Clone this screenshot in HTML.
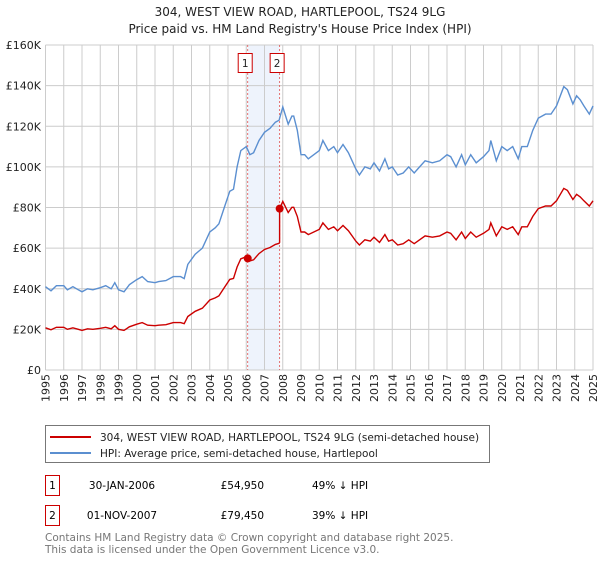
<!DOCTYPE html>
<html><head><meta charset="utf-8">
<style>
body{margin:0;background:#fff;font-family:"Liberation Sans","DejaVu Sans",sans-serif;}
svg text{font-family:"DejaVu Sans","Liberation Sans",sans-serif;}
</style></head>
<body>
<svg id="chart" width="600" height="560" viewBox="0 0 600 560">
<text x="300" y="16" text-anchor="middle" font-size="12" fill="#222">304, WEST VIEW ROAD, HARTLEPOOL, TS24 9LG</text>
<text x="300" y="33" text-anchor="middle" font-size="12" fill="#222">Price paid vs. HM Land Registry's House Price Index (HPI)</text>
<g id="plot"></g>
<g>
<rect x="45.5" y="425.5" width="444" height="37" fill="#fff" stroke="#777"/>
<line x1="50" y1="437" x2="91" y2="437" stroke="#cc0000" stroke-width="2"/>
<text x="100" y="441" font-size="10.5" fill="#222">304, WEST VIEW ROAD, HARTLEPOOL, TS24 9LG (semi-detached house)</text>
<line x1="50" y1="453" x2="91" y2="453" stroke="#5b8fd0" stroke-width="2"/>
<text x="100" y="457" font-size="10.5" fill="#222">HPI: Average price, semi-detached house, Hartlepool</text>
</g>
<g>
<rect x="45.5" y="475.5" width="14" height="20" fill="#fff" stroke="#cc0000"/>
<text x="52.5" y="489" text-anchor="middle" font-size="10.5">1</text>
<text x="122" y="489" text-anchor="middle" font-size="10.5">30-JAN-2006</text>
<text x="264" y="489" text-anchor="end" font-size="10.5">£54,950</text>
<text x="312" y="489" font-size="10.5">49% ↓ HPI</text>
<rect x="45.5" y="505.5" width="14" height="20" fill="#fff" stroke="#cc0000"/>
<text x="52.5" y="519" text-anchor="middle" font-size="10.5">2</text>
<text x="122" y="519" text-anchor="middle" font-size="10.5">01-NOV-2007</text>
<text x="264" y="519" text-anchor="end" font-size="10.5">£79,450</text>
<text x="312" y="519" font-size="10.5">39% ↓ HPI</text>
</g>
<text x="45" y="541" font-size="10.5" fill="#777">Contains HM Land Registry data © Crown copyright and database right 2025.</text>
<text x="45" y="553" font-size="10.5" fill="#777">This data is licensed under the Open Government Licence v3.0.</text>
</svg>
<script>
const hpiYears=[1995.0,1995.3,1995.6,1996.0,1996.2,1996.5,1996.8,1997.0,1997.3,1997.6,1998.0,1998.3,1998.6,1998.8,1999.0,1999.3,1999.6,2000.0,2000.3,2000.6,2001.0,2001.2,2001.6,2002.0,2002.4,2002.6,2002.8,2003.2,2003.6,2004.0,2004.3,2004.5,2004.8,2005.1,2005.3,2005.5,2005.7,2006.0,2006.2,2006.4,2006.7,2007.0,2007.3,2007.6,2007.8,2008.0,2008.3,2008.5,2008.6,2008.8,2009.0,2009.2,2009.4,2009.7,2010.0,2010.2,2010.5,2010.8,2011.0,2011.3,2011.6,2011.8,2012.0,2012.2,2012.5,2012.8,2013.0,2013.3,2013.6,2013.8,2014.0,2014.3,2014.6,2014.9,2015.2,2015.5,2015.8,2016.2,2016.6,2017.0,2017.2,2017.5,2017.8,2018.0,2018.3,2018.6,2019.0,2019.3,2019.4,2019.7,2020.0,2020.3,2020.6,2020.9,2021.1,2021.4,2021.7,2022.0,2022.4,2022.7,2023.0,2023.4,2023.6,2023.9,2024.1,2024.3,2024.5,2024.8,2025.0];
const hpiValues=[41,39,41.5,41.5,39.5,41,39.5,38.5,40,39.5,40.5,41.5,40,43,39.5,38.5,42,44.5,46,43.5,43,43.5,44,46,46,45,52,57,60,68,70,72,80,88,89,100,108,110,106,107,113,117,119,122,123,129.5,121,125,125,118,106,106,104,106,108,113,108,110,107,111,107,103,99,96,100,99,102,98,104,99,100,96,97,100,97,100,103,102,103,106,105,100,106,101,106,102,105,108,113,103,110,108,110,104,110,110,118,124,126,126,130,139.5,138,131,135,133,130,126,130,143];
const saleYears=[2006.08,2007.83];
const salePrices=[54.95,79.45];
const saleLabels=["1","2"];
const yTicks=[0,20,40,60,80,100,120,140,160];
const yTickLabels=["£0","£20K","£40K","£60K","£80K","£100K","£120K","£140K","£160K"];
const xTicks=[1995,1996,1997,1998,1999,2000,2001,2002,2003,2004,2005,2006,2007,2008,2009,2010,2011,2012,2013,2014,2015,2016,2017,2018,2019,2020,2021,2022,2023,2024,2025];

const L=45.5,R=593,T=45,B=370;
const X=y=>L+(y-1995)/30*(R-L);
const Y=v=>B-v/160*(B-T);
const NS="http://www.w3.org/2000/svg";
const g=document.getElementById('plot');
function mk(t,a){const e=document.createElementNS(NS,t);for(const k in a)e.setAttribute(k,a[k]);g.appendChild(e);return e;}
function hpiAt(y){for(let i=1;i<hpiYears.length;i++){if(y<=hpiYears[i]){const f=(y-hpiYears[i-1])/(hpiYears[i]-hpiYears[i-1]);return hpiValues[i-1]+f*(hpiValues[i]-hpiValues[i-1]);}}return hpiValues[hpiValues.length-1];}
const sh=mk('rect',{x:X(saleYears[0]),y:T,width:X(saleYears[1])-X(saleYears[0]),height:B-T,fill:'#eef3fc'});


xTicks.forEach(t=>{const l=mk('line',{x1:X(t),x2:X(t),y1:T,y2:B,stroke:'#ccc','stroke-width':1});


const tx=mk('text',{x:0,y:0,'font-size':11,fill:'#222','text-anchor':'end',transform:`translate(${X(t)+4},${B+4}) rotate(-90)`});tx.textContent=t;

});
yTicks.forEach((t,i)=>{const l=mk('line',{x1:L,x2:R,y1:Y(t),y2:Y(t),stroke:'#ccc','stroke-width':1});


const tx=mk('text',{x:41,y:Y(t)+4,'font-size':11,fill:'#222','text-anchor':'end'});tx.textContent=yTickLabels[i];

});
saleYears.forEach((s,i)=>{const l=mk('line',{x1:X(s),x2:X(s),y1:T,y2:B,stroke:'#e05050','stroke-width':0.8,'stroke-dasharray':'2,2'});


const bx=mk('rect',{x:X(s)-9.5,y:53.5,width:14,height:19,fill:'#fff',stroke:'#cc0000'});


const tx=mk('text',{x:X(s)-2.5,y:67,'font-size':10.5,'text-anchor':'middle',fill:'#222'});tx.textContent=saleLabels[i];

});
let d='';hpiYears.forEach((y,i)=>{d+=(i?'L':'M')+X(y).toFixed(1)+','+Y(hpiValues[i]).toFixed(1);});
const hl=mk('path',{d:d,fill:'none',stroke:'#5b8fd0','stroke-width':1.4});


const r1=salePrices[0]/hpiAt(saleYears[0]),r2=salePrices[1]/hpiAt(saleYears[1]);
let pts=[];hpiYears.forEach((y,i)=>{if(y<saleYears[1])pts.push([y,hpiValues[i]*r1]);});
pts.push([saleYears[1],hpiAt(saleYears[1])*r1]);pts.push([saleYears[1],salePrices[1]]);
hpiYears.forEach((y,i)=>{if(y>saleYears[1])pts.push([y,hpiValues[i]*r2]);});
d='';pts.forEach((p,i)=>{d+=(i?'L':'M')+X(p[0]).toFixed(1)+','+Y(p[1]).toFixed(1);});
const pl=mk('path',{d:d,fill:'none',stroke:'#cc0000','stroke-width':1.4});


saleYears.forEach((s,i)=>{const c=mk('circle',{cx:X(s),cy:Y(salePrices[i]),r:4,fill:'#cc0000'});

});
</script>
</body></html>
